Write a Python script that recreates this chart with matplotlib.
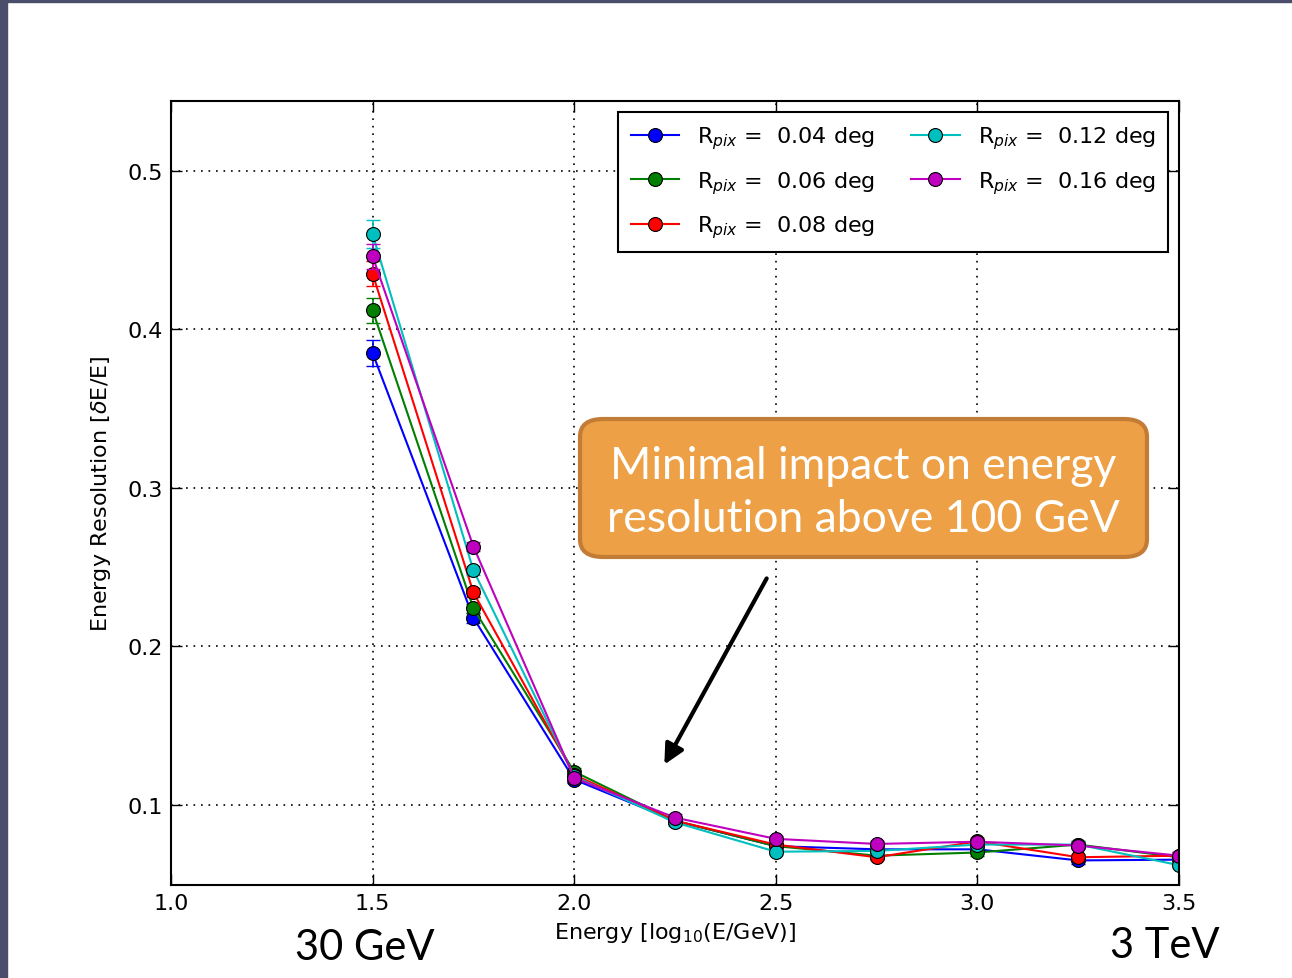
import matplotlib
matplotlib.use('Agg')
import matplotlib.pyplot as plt
from matplotlib.patches import FancyBboxPatch, Rectangle

# Energy bins in log10(E/GeV)
log_energy = [1.5, 1.75, 2.0, 2.25, 2.5, 2.75, 3.0, 3.25, 3.5]

# Energy resolution for each pixel size
res_004 = [0.385, 0.218, 0.116, 0.090, 0.074, 0.072, 0.072, 0.065, 0.0655]
res_006 = [0.412, 0.224, 0.121, 0.090, 0.074, 0.068, 0.070, 0.075, 0.067]
res_008 = [0.435, 0.234, 0.119, 0.090, 0.075, 0.067, 0.077, 0.067, 0.068]
res_012 = [0.460, 0.248, 0.118, 0.089, 0.0705, 0.071, 0.075, 0.075, 0.062]
res_016 = [0.446, 0.263, 0.117, 0.092, 0.0786, 0.0754, 0.0768, 0.0744, 0.068]

err_004 = [0.008, 0.003, 0.002, 0.002, 0.002, 0.002, 0.002, 0.002, 0.002]
err_006 = [0.008, 0.003, 0.002, 0.002, 0.002, 0.002, 0.002, 0.002, 0.002]
err_008 = [0.008, 0.003, 0.002, 0.002, 0.002, 0.002, 0.002, 0.002, 0.002]
err_012 = [0.009, 0.003, 0.002, 0.002, 0.002, 0.002, 0.002, 0.002, 0.002]
err_016 = [0.008, 0.003, 0.002, 0.002, 0.002, 0.002, 0.002, 0.002, 0.002]

pixel_sizes = ['0.04', '0.06', '0.08', '0.12', '0.16']
colors = ['#0000ff', '#007f00', '#ff0000', '#00bfbf', '#bf00bf']
series = [res_004, res_006, res_008, res_012, res_016]
errors = [err_004, err_006, err_008, err_012, err_016]

fig = plt.figure(figsize=(12.92, 9.79), dpi=100)
fig.patch.set_facecolor('white')

# slide frame on the left and top edge
fig.patches.append(Rectangle((0, 0), 7 / 1292, 1, transform=fig.transFigure,
                             color='#4a4e6a', zorder=0))
fig.patches.append(Rectangle((0, 1 - 3 / 979), 1, 3 / 979, transform=fig.transFigure,
                             color='#4a4e6a', zorder=0))

ax = fig.add_axes([171 / 1292, 1 - 886 / 979, 1008 / 1292, 784 / 979])

for size, col, y, e in zip(pixel_sizes, colors, series, errors):
    ax.errorbar(log_energy, y, yerr=e, fmt='none', ecolor=col,
                capsize=5, elinewidth=1.2)
    ax.plot(log_energy, y, color=col, marker='o', markersize=10,
            markeredgecolor='black', markeredgewidth=0.8, linewidth=1.5,
            label=r'R$_{pix}$ =  ' + size + ' deg')

ax.set_xlim(1.0, 3.5)
ax.set_ylim(0.0495, 0.544)
ax.set_xticks([1.0, 1.5, 2.0, 2.5, 3.0, 3.5])
ax.set_yticks([0.1, 0.2, 0.3, 0.4, 0.5])
ax.grid(True, linestyle=(0, (1, 3.5)), color='black', linewidth=1.2)
ax.tick_params(direction='in', length=8, width=1, top=True, right=True,
               labelsize=16, pad=6)
for s in ax.spines.values():
    s.set_linewidth(1.5)

ax.set_xlabel(r'Energy [log$_{10}$(E/GeV)]', fontsize=16, labelpad=5)
ax.set_ylabel(r'Energy Resolution [$\delta$E/E]', fontsize=16, labelpad=10)

leg = ax.legend(loc='upper right', ncol=2, fontsize=16, fancybox=False,
                framealpha=1, edgecolor='black', borderpad=0.55,
                handlelength=2.2, columnspacing=1.6, labelspacing=0.8,
                borderaxespad=0, bbox_to_anchor=(0.989, 0.986), numpoints=1)
leg.get_frame().set_linewidth(1.5)

# callout box with arrow
box = FancyBboxPatch((580 / 1292, 1 - 558 / 979), 567 / 1292, 138 / 979,
                     boxstyle='round,pad=0,rounding_size=0.018',
                     transform=fig.transFigure, facecolor='#eda045',
                     edgecolor='#c27c35', linewidth=3, zorder=5)
fig.patches.append(box)
fig.text(863 / 1292, 1 - 493 / 979,
         'Minimal impact on energy\nresolution above 100 GeV',
         ha='center', va='center', color='white', fontsize=32,
         family='Lato', linespacing=1.38, zorder=6)

ax.annotate('', xy=(663 / 1292, 1 - 768 / 979), xytext=(768 / 1292, 1 - 577 / 979),
            xycoords='figure fraction', textcoords='figure fraction',
            arrowprops=dict(arrowstyle='-|>', color='black', linewidth=3,
                            mutation_scale=30))

fig.text(365 / 1292, 1 - 948 / 979, '30 GeV', ha='center', va='center',
         fontsize=30, family='Lato')
fig.text(1165 / 1292, 1 - 946 / 979, '3 TeV', ha='center', va='center',
         fontsize=30, family='Lato')

fig.savefig('out.png', dpi=100)
